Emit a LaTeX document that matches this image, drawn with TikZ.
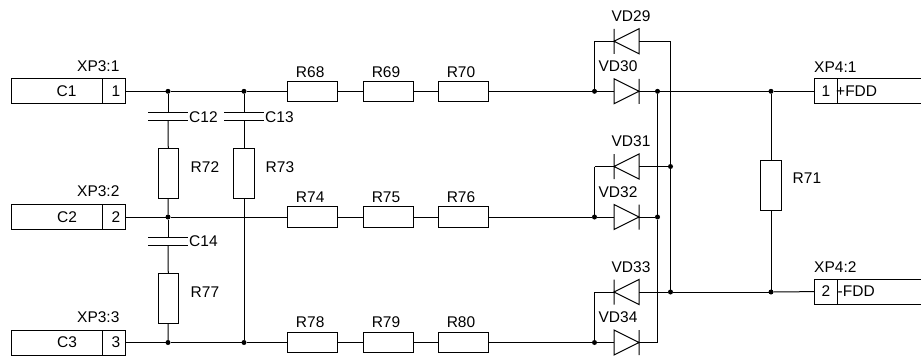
\documentclass[tikz,border=0pt]{standalone}
\usepackage{fontspec}
\setmainfont{Liberation Sans}
\tikzset{
  wire/.style={line width=1pt},
  txt/.style={inner sep=0pt, font=\fontsize{15.5}{18}\selectfont},
  rbox/.style={draw, line width=1pt, rectangle, inner sep=0pt, outer sep=0pt, minimum width=50pt, minimum height=20.5pt},
  rboxv/.style={draw, line width=1pt, rectangle, inner sep=0pt, outer sep=0pt, minimum width=20.5pt, minimum height=50pt},
  jun/.style={circle, fill, inner sep=0pt, outer sep=0pt, minimum size=5pt},
  conn/.style={draw, line width=1pt, rectangle, inner sep=0pt, outer sep=0pt, minimum height=25pt},
  capv/.style={rectangle, inner sep=0pt, outer sep=0pt, minimum width=40pt, minimum height=7.5pt,
    append after command={\pgfextra{\draw[wire] (\tikzlastnode.north west) -- (\tikzlastnode.north east)
      (\tikzlastnode.south west) -- (\tikzlastnode.south east);}}},
  diodeout/.style={rectangle, inner sep=0pt, outer sep=0pt, minimum width=25pt, minimum height=25pt,
    append after command={\pgfextra{\draw[wire] (\tikzlastnode.north west) -- (\tikzlastnode.south west) -- (\tikzlastnode.east) -- cycle
      (\tikzlastnode.north east) -- (\tikzlastnode.south east);}}},
  diodeback/.style={rectangle, inner sep=0pt, outer sep=0pt, minimum width=25pt, minimum height=25pt,
    append after command={\pgfextra{\draw[wire] (\tikzlastnode.north east) -- (\tikzlastnode.south east) -- (\tikzlastnode.west) -- cycle
      (\tikzlastnode.north west) -- (\tikzlastnode.south west);}}}
}
\begin{document}
\begin{tikzpicture}[x=1pt,y=-1pt]
\useasboundingbox (0,0) rectangle (921,357);
\clip (0,0) rectangle (921,357);
\node[conn, minimum width=91pt] (xp31b) at (57,91.3){};
\node[conn, minimum width=23pt] (xp31) at (114.2,91.3){};
\node[conn, minimum width=91pt] (xp32b) at (57,217){};
\node[conn, minimum width=23pt] (xp32) at (114.2,217){};
\node[conn, minimum width=91pt] (xp33b) at (57,342.5){};
\node[conn, minimum width=23pt] (xp33) at (114.2,342.5){};
\node[conn, minimum width=23pt] (xp41) at (826,91.3){};
\node[conn, minimum width=95pt] (xp41b) at (885,91.3){};
\node[conn, minimum width=23pt] (xp42) at (826,291.5){};
\node[conn, minimum width=95pt] (xp42b) at (885,291.5){};
\node[txt] (tc1) at (66.5,91.3){C1};
\node[txt] (tp1) at (116,91.3){1};
\node[txt] (tc2) at (67,217){C2};
\node[txt] (tp2) at (116,217){2};
\node[txt] (tc3) at (67,342.5){C3};
\node[txt] (tp3) at (116,342.5){3};
\node[txt] (tp41) at (826,91.3){1};
\node[txt] (tp42) at (826,291.5){2};
\node[txt, anchor=west] (tf1) at (836,91.3){+FDD};
\node[txt, anchor=west] (tf2) at (837.5,291.5){-FDD};
\node[txt, anchor=west] (t31) at (77,66){XP3:1};
\node[txt, anchor=west] (t32) at (77,191){XP3:2};
\node[txt, anchor=west] (t33) at (77,317){XP3:3};
\node[txt, anchor=west] (t41) at (814,67){XP4:1};
\node[txt, anchor=west] (t42) at (814,267){XP4:2};
\node[jun] (j1) at (168,91.3){};
\node[jun] (j2) at (244,91.3){};
\node[jun] (j3) at (168,217){};
\node[jun] (j4) at (168,342.5){};
\node[jun] (j5) at (244,342.5){};
\node[capv] (c12) at (168,116.5){};
\node[capv] (c13) at (244,116.5){};
\node[capv] (c14) at (168,241.5){};
\node[txt, anchor=west] (tc12) at (189,117){C12};
\node[txt, anchor=west] (tc13) at (265,117){C13};
\node[txt, anchor=west] (tc14) at (189,241.5){C14};
\node[rboxv] (r72) at (168.5,173){};
\node[rboxv] (r73) at (244,173){};
\node[rboxv] (r77) at (168.5,298){};
\node[rboxv] (r71) at (771,185.5){};
\node[txt, anchor=west] (t72) at (190.5,167){R72};
\node[txt, anchor=west] (t73) at (265.5,167){R73};
\node[txt, anchor=west] (t77) at (190.5,292){R77};
\node[txt, anchor=west] (t71) at (792.5,178){R71};
\node[rbox] (r68) at (312.8,91.3){};
\node[rbox] (r69) at (388.2,91.3){};
\node[rbox] (r70) at (463.8,91.3){};
\node[rbox] (r74) at (312.8,217){};
\node[rbox] (r75) at (388.2,217){};
\node[rbox] (r76) at (463.8,217){};
\node[rbox] (r78) at (312.8,342.5){};
\node[rbox] (r79) at (388.2,342.5){};
\node[rbox] (r80) at (463.8,342.5){};
\node[txt] (t68) at (310.2,72){R68};
\node[txt] (t69) at (386,72){R69};
\node[txt] (t70) at (461,72){R70};
\node[txt] (t74) at (310.2,197.5){R74};
\node[txt] (t75) at (386,197.5){R75};
\node[txt] (t76) at (461,197.5){R76};
\node[txt] (t78) at (310.2,322.5){R78};
\node[txt] (t79) at (386,322.5){R79};
\node[txt] (t80) at (461,322.5){R80};
\node[diodeback] (vd29) at (626.5,41.3){};
\node[diodeout] (vd30) at (626.5,91.3){};
\node[diodeback] (vd31) at (626.5,166.5){};
\node[diodeout] (vd32) at (626.5,217){};
\node[diodeback] (vd33) at (626.5,292){};
\node[diodeout] (vd34) at (626.5,342.5){};
\node[txt] (t29) at (631,16.5){VD29};
\node[txt] (t30) at (618,66.5){VD30};
\node[txt] (t31b) at (631,141.5){VD31};
\node[txt] (t32b) at (618,192){VD32};
\node[txt] (t33b) at (631,267){VD33};
\node[txt] (t34b) at (618,317){VD34};
\coordinate (a29) at (594.5,41.3);
\coordinate (b29) at (670.5,41.3);
\node[jun] (a30) at (594.5,91.3){};
\node[jun] (b30) at (657.5,91.3){};
\node[jun] (j71a) at (771,91.3){};
\node[jun] (b31) at (670.5,166.5){};
\coordinate (a31) at (594.5,166.5);
\node[jun] (a32) at (594.5,217){};
\node[jun] (b32) at (657.5,217){};
\node[jun] (b33) at (670.5,292){};
\coordinate (a33) at (594.5,292);
\node[jun] (a34) at (594.5,342.5){};
\coordinate (b34) at (657.5,342.5);
\node[jun] (j71b) at (771,292){};
\draw[wire](xp31) -- (j1);
\draw[wire](j1) -- (j2);
\draw[wire](j2) -- (r68);
\draw[wire](r68) -- (r69);
\draw[wire](r69) -- (r70);
\draw[wire](r70) -- (a30);
\draw[wire](xp32) -- (j3);
\draw[wire](j3) -- (r74);
\draw[wire](r74) -- (r75);
\draw[wire](r75) -- (r76);
\draw[wire](r76) -- (a32);
\draw[wire](xp33) -- (j4);
\draw[wire](j4) -- (j5);
\draw[wire](j5) -- (r78);
\draw[wire](r78) -- (r79);
\draw[wire](r79) -- (r80);
\draw[wire](r80) -- (a34);
\draw[wire](j1) -- (c12.north);
\draw[wire](c12.south) -- (r72);
\draw[wire](r72) -- (j3);
\draw[wire](j3) -- (c14.north);
\draw[wire](c14.south) -- (r77);
\draw[wire](r77) -- (j4);
\draw[wire](j2) -- (c13.north);
\draw[wire](c13.south) -- (r73);
\draw[wire](r73) -- (j5);
\draw[wire](a30) -- (vd30.west);
\draw[wire](vd30.east) -- (b30);
\draw[wire](a32) -- (vd32.west);
\draw[wire](vd32.east) -- (b32);
\draw[wire](a34) -- (vd34.west);
\draw[wire](vd34.east) -- (b34);
\draw[wire](a29) -- (vd29.west);
\draw[wire](vd29.east) -- (b29);
\draw[wire](a31) -- (vd31.west);
\draw[wire](vd31.east) -- (b31);
\draw[wire](a33) -- (vd33.west);
\draw[wire](vd33.east) -- (b33);
\draw[wire](a29) -- (a30);
\draw[wire](a31) -- (a32);
\draw[wire](a33) -- (a34);
\draw[wire](b29) -- (b31);
\draw[wire](b31) -- (b33);
\draw[wire](b30) -- (b32);
\draw[wire](b32) -- (b34);
\draw[wire](b30) -- (j71a);
\draw[wire](j71a) -- (xp41);
\draw[wire](b33) -- (j71b);
\draw[wire](j71b) -- (xp42);
\draw[wire](j71a) -- (r71);
\draw[wire](r71) -- (j71b);
\end{tikzpicture}
\end{document}
